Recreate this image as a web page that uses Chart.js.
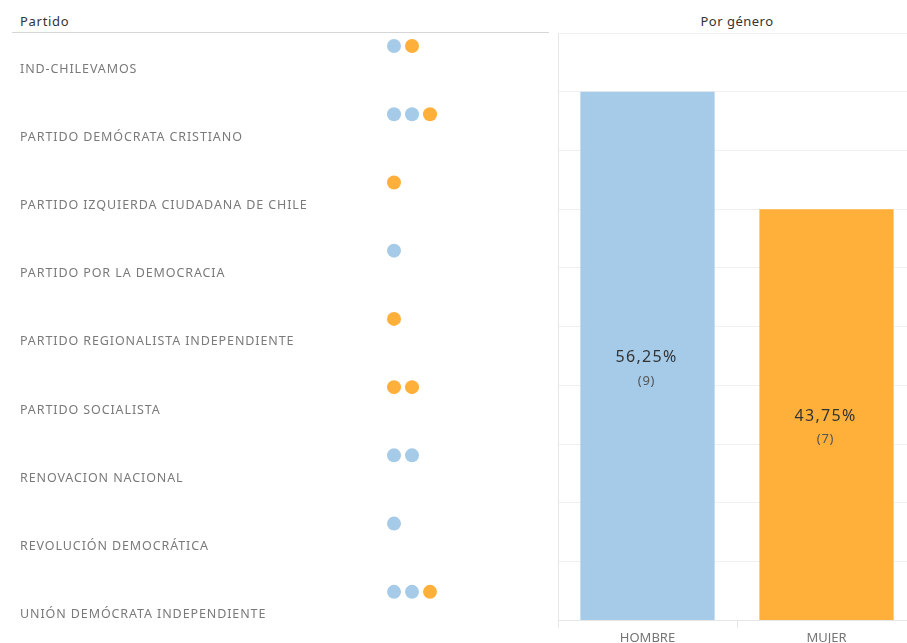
<!DOCTYPE html>
<html>
<head>
<meta charset="utf-8">
<script src="https://cdn.jsdelivr.net/npm/chart.js@4"></script>
<style>
    html, body { margin: 0; padding: 0; background: #fff; overflow: hidden; }
    body { width: 907px; height: 643px; position: relative; font-family: "Noto Sans", sans-serif; }
    .header-partido { position: absolute; left: 20px; top: 12px; font-size: 13px; color: #333; letter-spacing: 0.7px; }
    .header-line { position: absolute; left: 12px; top: 32px; width: 537px; height: 0; border-top: 1px solid #d6d6d6; }
    .header-genero { position: absolute; left: 558px; width: 358px; top: 12px; font-size: 13px; color: #333; text-align: center; letter-spacing: 0.5px; }
    #dots { position: absolute; left: 0; top: 0; }
    #bars { position: absolute; left: 550px; top: 0; }
</style>
</head>
<body>
<div class="header-partido">Partido</div>
<div class="header-line"></div>
<div class="header-genero">Por género</div>
<canvas id="dots" width="550" height="643"></canvas>
<canvas id="bars" width="370" height="648"></canvas>

<script>
// Data
const partidos = [
    "IND-CHILEVAMOS",
    "PARTIDO DEMÓCRATA CRISTIANO",
    "PARTIDO IZQUIERDA CIUDADANA DE CHILE",
    "PARTIDO POR LA DEMOCRACIA",
    "PARTIDO REGIONALISTA INDEPENDIENTE",
    "PARTIDO SOCIALISTA",
    "RENOVACION NACIONAL",
    "REVOLUCIÓN DEMOCRÁTICA",
    "UNIÓN DEMÓCRATA INDEPENDIENTE"
];
const hombresPorPartido = [1, 2, 0, 1, 0, 0, 2, 1, 2];
const mujeresPorPartido = [1, 1, 1, 0, 1, 2, 0, 0, 1];

const generos = ["HOMBRE", "MUJER"];
const totalesGenero = [9, 7];
const porcentajesGenero = ["56,25%", "43,75%"];

const AZUL = "#a5cbe8";
const NARANJA = "#ffb03b";
const FONT = "'Noto Sans', sans-serif";

// Build dot positions: men first, then women, one slot each
const puntosHombre = [];
const puntosMujer = [];
partidos.forEach((p, i) => {
    for (let k = 0; k < hombresPorPartido[i]; k++) puntosHombre.push({ x: k, y: i });
    for (let k = 0; k < mujeresPorPartido[i]; k++) puntosMujer.push({ x: hombresPorPartido[i] + k, y: i });
});

// Party names under each dot row
const partyLabels = {
    id: "partyLabels",
    afterDraw(chart) {
        const ctx = chart.ctx;
        const y = chart.scales.y;
        ctx.save();
        ctx.font = "12.5px " + FONT;
        ctx.letterSpacing = "0.9px";
        ctx.fillStyle = "#7a7a7a";
        ctx.textAlign = "left";
        ctx.textBaseline = "middle";
        partidos.forEach((p, i) => {
            ctx.fillText(p, 20, y.getPixelForValue(i) + 23);
        });
        ctx.restore();
    }
};

new Chart(document.getElementById("dots"), {
    type: "scatter",
    data: {
        datasets: [
            { label: "HOMBRE", data: puntosHombre, backgroundColor: AZUL, borderWidth: 0, pointRadius: 7, pointHoverRadius: 7 },
            { label: "MUJER", data: puntosMujer, backgroundColor: NARANJA, borderWidth: 0, pointRadius: 7, pointHoverRadius: 7 }
        ]
    },
    options: {
        responsive: false,
        animation: false,
        layout: { autoPadding: false, padding: { left: 12, right: 1, top: 33, bottom: 0 } },
        plugins: { legend: { display: false }, tooltip: { enabled: false } },
        scales: {
            x: { type: "linear", display: false, min: -21.22, max: 8.61 },
            y: { type: "linear", display: false, reverse: true, min: -0.19, max: 8.75 }
        }
    },
    plugins: [partyLabels]
});

// Percentage and count inside each bar
const barLabels = {
    id: "barLabels",
    afterDatasetsDraw(chart) {
        const ctx = chart.ctx;
        const meta = chart.getDatasetMeta(0);
        ctx.save();
        ctx.textAlign = "center";
        ctx.textBaseline = "middle";
        meta.data.forEach((bar, i) => {
            const mid = (bar.y + bar.base) / 2;
            ctx.font = "16px " + FONT;
            ctx.letterSpacing = "1.3px";
            ctx.fillStyle = "#333";
            ctx.fillText(porcentajesGenero[i], bar.x - 1, mid + 2);
            ctx.font = "13px " + FONT;
            ctx.letterSpacing = "0.8px";
            ctx.fillStyle = "#555";
            ctx.fillText("(" + totalesGenero[i] + ")", bar.x - 1, mid + 25);
        });
        ctx.restore();
    }
};

new Chart(document.getElementById("bars"), {
    type: "bar",
    data: {
        labels: generos,
        datasets: [{
            data: totalesGenero,
            backgroundColor: [AZUL, NARANJA],
            borderWidth: 0,
            barPercentage: 0.75,
            categoryPercentage: 1
        }]
    },
    options: {
        responsive: false,
        animation: false,
        layout: { padding: { left: 8, right: 4, top: 33, bottom: 0 } },
        plugins: { legend: { display: false }, tooltip: { enabled: false } },
        scales: {
            x: {
                grid: { drawOnChartArea: false, tickLength: 8, color: "#e6e6e6" },
                border: { color: "#e6e6e6" },
                ticks: { color: "#757575", font: { family: FONT, size: 13 }, padding: 2 }
            },
            y: {
                min: 0,
                max: 10,
                ticks: { display: false, stepSize: 1 },
                grid: { color: "#f0f0f0", drawTicks: false },
                border: { color: "#e6e6e6" }
            }
        }
    },
    plugins: [barLabels]
});
</script>
</body>
</html>
